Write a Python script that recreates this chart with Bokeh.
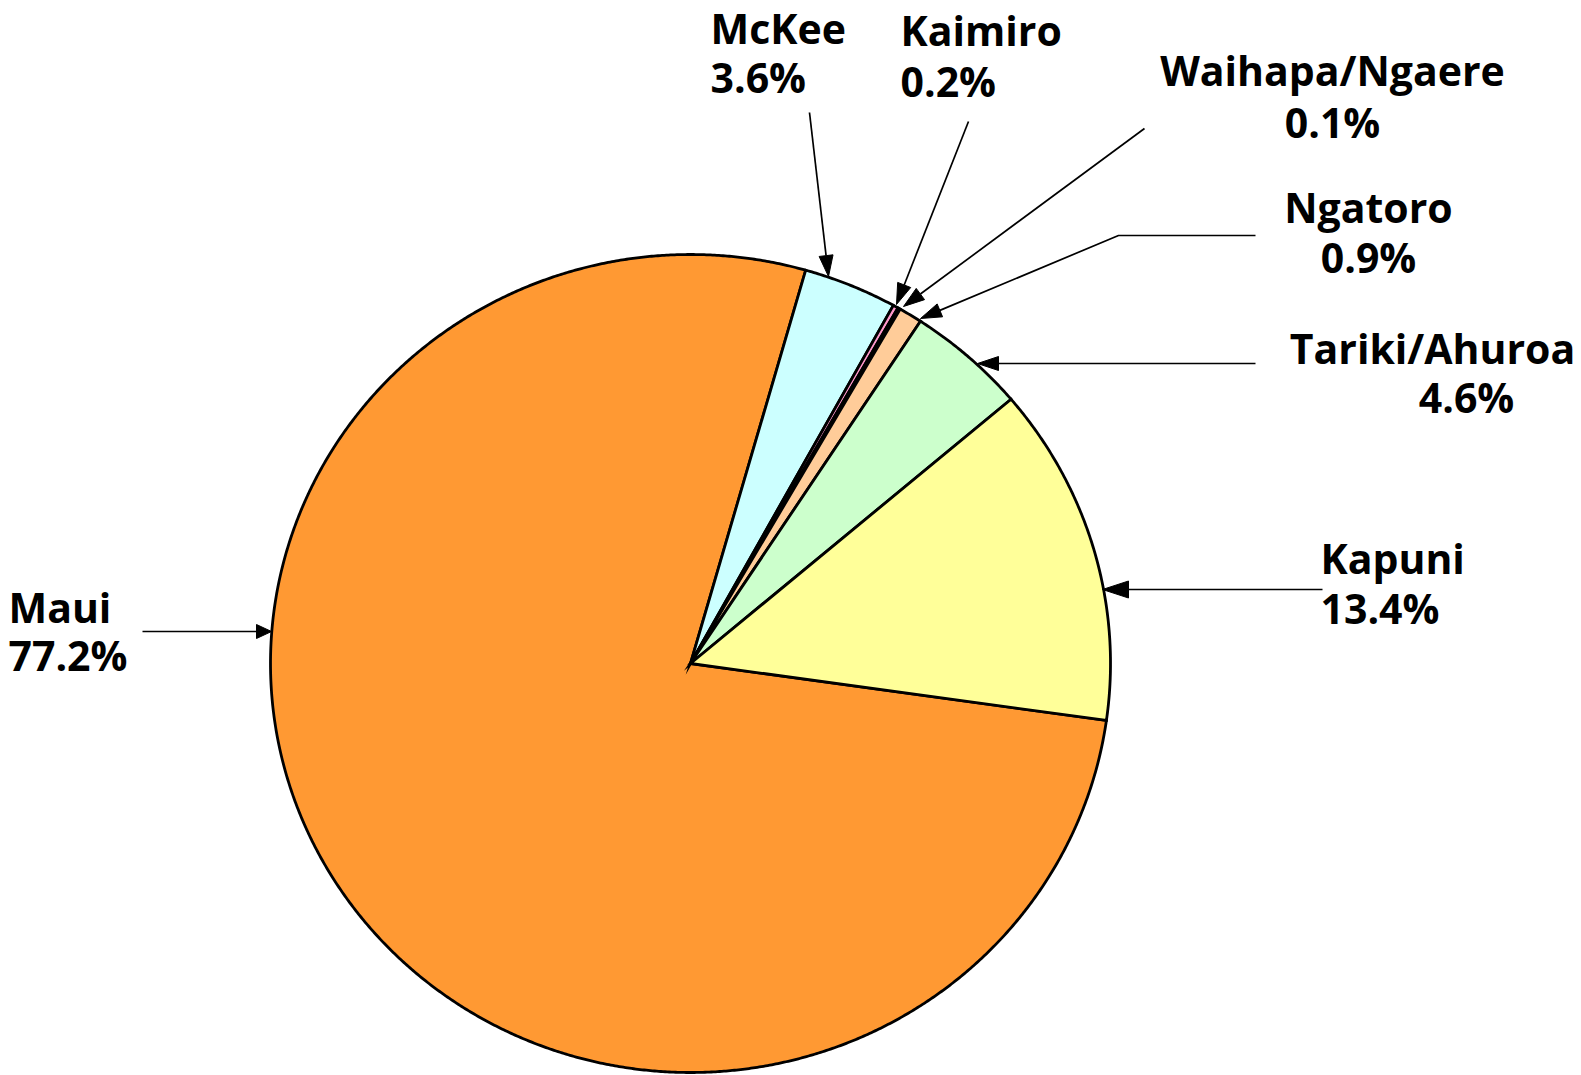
import numpy as np
from bokeh.plotting import figure
from bokeh.models import Range1d, ColumnDataSource
from bokeh.core.properties import value
from bokeh.embed import file_html
from bokeh.resources import INLINE

# ---- data (clockwise from the Maui slice start) ----
fields = ["Maui", "McKee", "Kaimiro", "Waihapa/Ngaere", "Ngatoro", "Tariki/Ahuroa", "Kapuni"]
shares = [77.2, 3.6, 0.2, 0.1, 0.9, 4.6, 13.4]
share_labels = ["77.2%", "3.6%", "0.2%", "0.1%", "0.9%", "4.6%", "13.4%"]
colors = ["#FF9933", "#CCFFFF", "#FF99CC", "#993366", "#FFCC99", "#CCFFCC", "#FFFF99"]

# ---- layout (page pixel coordinates) ----
W, H = 1581, 1075
cx, cy, rx, ry = 690, 663, 420, 409
start_deg = 98.0

p = figure(width=W, height=H, output_backend="svg", toolbar_location=None,
           x_range=Range1d(0, W), y_range=Range1d(H, 0),
           min_border=0)
p.axis.visible = False
p.grid.visible = False
p.outline_line_color = None
p.background_fill_color = "white"

total = sum(shares)
cum = np.concatenate([[0], np.cumsum(shares)]) / total
xs, ys = [], []
for i in range(len(shares)):
    a0 = np.radians(start_deg + 360 * cum[i])
    a1 = np.radians(start_deg + 360 * cum[i + 1])
    n = max(4, int(abs(a1 - a0) * 200))
    a = np.linspace(a0, a1, n)
    x = np.concatenate([[cx], cx + rx * np.sin(a)])
    y = np.concatenate([[cy], cy - ry * np.cos(a)])
    xs.append(list(x))
    ys.append(list(y))

src = ColumnDataSource(dict(xs=xs, ys=ys, color=colors))
p.patches("xs", "ys", source=src, fill_color="color", line_color="black", line_width=2.8,
          line_join="miter")

# ---- labels ----
font = value("Open Sans")
fs = "41px"
dy = -16
label_pos = {
    "Maui": (8, 622, 8, 670, "left"),
    "McKee": (710, 43, 710, 92, "left"),
    "Kaimiro": (900, 45, 900, 96, "left"),
    "Waihapa/Ngaere": (1332, 85, 1332, 137, "center"),
    "Ngatoro": (1368, 222, 1368, 272, "center"),
    "Tariki/Ahuroa": (1432, 363, 1466, 412, "center"),
    "Kapuni": (1320, 573, 1320, 623, "left"),
}
for name, lab in zip(fields, share_labels):
    x1, y1, x2, y2, al = label_pos[name]
    p.text(x=[x1, x2], y=[y1 + dy, y2 + dy], text=[name, lab], text_font=font,
           text_font_size=fs, text_font_style="bold", text_color="black",
           text_align=al, text_baseline="alphabetic")

# ---- leader lines with arrowheads (length, half width) ----
leaders = {
    "Maui": ([(142, 631), (271, 631)], 15, 7),
    "McKee": ([(809, 112), (828, 276)], 21, 7),
    "Kaimiro": ([(968, 121), (896, 304)], 21, 7),
    "Waihapa/Ngaere": ([(1144, 128), (903, 306)], 21, 7),
    "Ngatoro": ([(1255, 235), (1118, 235), (920, 318)], 21, 7),
    "Tariki/Ahuroa": ([(1255, 363), (977, 363)], 21, 7),
    "Kapuni": ([(1322, 589), (1102, 589)], 26, 8.5),
}
hx, hy = [], []
for name in fields:
    pts, L, hw = leaders[name]
    (x0, y0), (x1, y1) = pts[-2], pts[-1]
    d = np.array([x1 - x0, y1 - y0], dtype=float)
    d /= np.linalg.norm(d)
    nrm = np.array([-d[1], d[0]])
    base = np.array([x1, y1]) - d * L
    p.line([q[0] for q in pts[:-1]] + [base[0]], [q[1] for q in pts[:-1]] + [base[1]],
           line_color="black", line_width=1.7)
    tri = [np.array([x1, y1]), base + nrm * hw, base - nrm * hw]
    hx.append([t[0] for t in tri])
    hy.append([t[1] for t in tri])
p.patches(hx, hy, fill_color="black", line_color="black", line_width=1)

open("out.html", "w").write(file_html(p, INLINE))
